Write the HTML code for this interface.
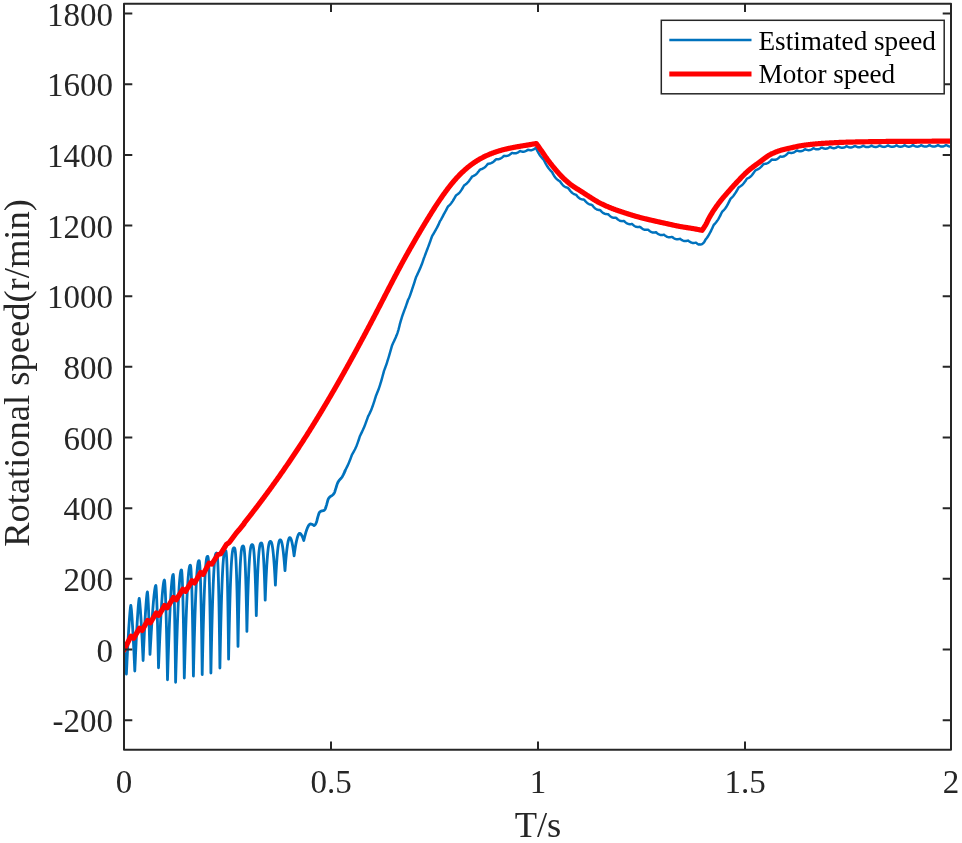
<!DOCTYPE html>
<html><head><meta charset="utf-8"><title>Rotational speed</title>
<style>
html,body{margin:0;padding:0;background:#fff;}
body{width:962px;height:843px;overflow:hidden;}
svg{display:block;}
text{font-family:"Liberation Serif","Times New Roman",serif;fill:#262626;}
.tl{font-size:33px;}
.al{font-size:36.5px;}
.lg{font-size:27.2px;fill:#000;}
</style></head>
<body>
<svg width="962" height="843" viewBox="0 0 962 843">
<rect x="0" y="0" width="962" height="843" fill="#fff"/>
<defs><clipPath id="c"><rect x="124.0" y="3.7" width="827.0" height="746.0999999999999"/></clipPath></defs>
<g clip-path="url(#c)" fill="none" stroke-linejoin="round" stroke-linecap="round">
<polyline points="124.00,650.00 124.60,653.51 125.20,662.00 125.80,670.49 126.40,674.00 126.58,670.03 126.77,666.13 126.95,662.30 127.13,658.55 127.32,654.86 127.50,651.26 127.68,647.73 127.87,644.29 128.05,640.93 128.23,637.66 128.42,634.48 128.60,631.39 128.78,628.41 128.97,625.54 129.15,622.78 129.33,620.14 129.52,617.62 129.70,615.25 129.88,613.03 130.07,610.98 130.25,609.13 130.43,607.52 130.62,606.20 130.80,605.40 130.97,606.17 131.13,607.42 131.30,608.97 131.47,610.74 131.63,612.70 131.80,614.82 131.97,617.09 132.13,619.49 132.30,622.02 132.47,624.66 132.63,627.41 132.80,630.26 132.97,633.21 133.13,636.25 133.30,639.37 133.47,642.59 133.63,645.88 133.80,649.25 133.97,652.70 134.13,656.22 134.30,659.81 134.47,663.48 134.63,667.21 134.80,671.00 134.98,666.80 135.17,662.67 135.35,658.62 135.53,654.64 135.72,650.75 135.90,646.93 136.08,643.20 136.27,639.55 136.45,636.00 136.63,632.54 136.82,629.17 137.00,625.91 137.18,622.76 137.37,619.71 137.55,616.79 137.73,613.99 137.92,611.34 138.10,608.82 138.28,606.48 138.47,604.31 138.65,602.35 138.83,600.64 139.02,599.25 139.20,598.40 139.36,599.13 139.52,600.32 139.69,601.78 139.85,603.45 140.01,605.31 140.17,607.28 140.34,609.40 140.50,611.63 140.66,613.98 140.82,616.44 140.99,619.00 141.15,621.66 141.31,624.41 141.47,627.26 141.64,630.20 141.80,633.23 141.96,636.34 142.12,639.54 142.29,642.83 142.45,646.19 142.61,649.65 142.78,653.18 142.94,656.80 143.10,660.50 143.28,656.40 143.46,652.36 143.64,648.40 143.82,644.50 144.00,640.69 144.18,636.95 144.35,633.30 144.53,629.75 144.71,626.29 144.89,622.93 145.07,619.67 145.25,616.54 145.43,613.52 145.61,610.63 145.79,607.88 145.97,605.28 146.15,602.83 146.32,600.56 146.50,598.47 146.68,596.58 146.86,594.92 147.04,593.53 147.22,592.47 147.40,591.90 147.51,592.41 147.62,593.36 147.72,594.58 147.83,596.04 147.94,597.69 148.05,599.51 148.16,601.50 148.27,603.64 148.38,605.93 148.48,608.35 148.59,610.89 148.70,613.57 148.81,616.36 148.92,619.28 149.03,622.31 149.13,625.45 149.24,628.70 149.35,632.06 149.46,635.52 149.57,639.09 149.68,642.77 149.78,646.54 149.89,650.42 150.00,654.40 150.24,649.99 150.48,645.67 150.72,641.44 150.97,637.30 151.21,633.27 151.45,629.34 151.69,625.52 151.93,621.82 152.18,618.24 152.42,614.80 152.66,611.49 152.90,608.32 153.14,605.30 153.38,602.44 153.62,599.75 153.87,597.24 154.11,594.92 154.35,592.79 154.59,590.88 154.83,589.20 155.08,587.77 155.32,586.61 155.56,585.79 155.80,585.40 155.91,585.86 156.03,586.81 156.14,588.13 156.25,589.77 156.36,591.68 156.48,593.85 156.59,596.26 156.70,598.91 156.81,601.77 156.93,604.84 157.04,608.13 157.15,611.61 157.26,615.28 157.38,619.15 157.49,623.21 157.60,627.45 157.71,631.87 157.82,636.47 157.94,641.26 158.05,646.22 158.16,651.35 158.28,656.66 158.39,662.14 158.50,667.80 158.75,661.76 158.99,655.87 159.24,650.14 159.48,644.58 159.73,639.18 159.97,633.97 160.22,628.93 160.47,624.09 160.71,619.45 160.96,615.01 161.20,610.79 161.45,606.79 161.70,603.03 161.94,599.50 162.19,596.22 162.43,593.20 162.68,590.45 162.93,587.98 163.17,585.81 163.42,583.95 163.66,582.41 163.91,581.23 164.15,580.43 164.40,580.10 164.53,580.47 164.66,581.35 164.79,582.64 164.92,584.30 165.05,586.32 165.18,588.66 165.30,591.32 165.43,594.29 165.56,597.55 165.69,601.11 165.82,604.96 165.95,609.08 166.08,613.49 166.21,618.17 166.34,623.12 166.47,628.35 166.60,633.84 166.72,639.61 166.85,645.64 166.98,651.94 167.11,658.50 167.24,665.34 167.37,672.43 167.50,679.80 167.74,671.99 167.97,664.42 168.21,657.11 168.45,650.05 168.69,643.25 168.93,636.73 169.16,630.48 169.40,624.52 169.64,618.85 169.88,613.49 170.11,608.43 170.35,603.69 170.59,599.28 170.82,595.19 171.06,591.44 171.30,588.04 171.54,584.99 171.77,582.31 172.01,579.99 172.25,578.06 172.49,576.52 172.72,575.38 172.96,574.66 173.20,574.40 173.30,574.67 173.40,575.38 173.50,576.50 173.60,578.02 173.70,579.91 173.80,582.17 173.90,584.79 174.00,587.77 174.10,591.10 174.20,594.78 174.30,598.80 174.40,603.17 174.50,607.89 174.60,612.94 174.70,618.34 174.80,624.08 174.90,630.16 175.00,636.58 175.10,643.34 175.20,650.45 175.30,657.90 175.40,665.69 175.50,673.82 175.60,682.30 175.84,673.44 176.08,664.91 176.32,656.70 176.57,648.83 176.81,641.30 177.05,634.11 177.29,627.28 177.53,620.81 177.78,614.71 178.02,608.98 178.26,603.62 178.50,598.64 178.74,594.05 178.98,589.85 179.22,586.05 179.47,582.64 179.71,579.64 179.95,577.04 180.19,574.84 180.43,573.05 180.68,571.66 180.92,570.67 181.16,570.09 181.40,569.90 181.52,570.08 181.64,570.63 181.76,571.54 181.88,572.81 182.00,574.45 182.12,576.46 182.25,578.84 182.37,581.59 182.49,584.72 182.61,588.21 182.73,592.09 182.85,596.34 182.97,600.98 183.09,606.00 183.21,611.40 183.33,617.20 183.45,623.39 183.58,629.97 183.70,636.96 183.82,644.35 183.94,652.14 184.06,660.35 184.18,668.96 184.30,678.00 184.55,668.55 184.80,659.49 185.05,650.83 185.30,642.57 185.55,634.73 185.80,627.30 186.05,620.28 186.30,613.69 186.55,607.52 186.80,601.77 187.05,596.45 187.30,591.57 187.55,587.10 187.80,583.07 188.05,579.47 188.30,576.28 188.55,573.52 188.80,571.18 189.05,569.24 189.30,567.70 189.55,566.54 189.80,565.76 190.05,565.33 190.30,565.20 190.43,565.32 190.56,565.74 190.69,566.48 190.82,567.56 190.95,569.00 191.08,570.81 191.20,573.00 191.33,575.58 191.46,578.55 191.59,581.93 191.72,585.73 191.85,589.94 191.98,594.59 192.11,599.67 192.24,605.20 192.37,611.17 192.50,617.61 192.62,624.51 192.75,631.88 192.88,639.74 193.01,648.08 193.14,656.91 193.27,666.25 193.40,676.10 193.63,665.82 193.87,656.03 194.10,646.73 194.33,637.93 194.57,629.62 194.80,621.80 195.03,614.48 195.27,607.66 195.50,601.33 195.73,595.48 195.97,590.13 196.20,585.25 196.43,580.85 196.67,576.92 196.90,573.45 197.13,570.44 197.37,567.86 197.60,565.71 197.83,563.97 198.07,562.63 198.30,561.65 198.53,561.02 198.77,560.69 199.00,560.60 199.13,560.68 199.27,561.00 199.40,561.60 199.53,562.53 199.67,563.79 199.80,565.42 199.93,567.44 200.07,569.86 200.20,572.70 200.33,575.97 200.47,579.68 200.60,583.86 200.73,588.51 200.87,593.65 201.00,599.29 201.13,605.45 201.27,612.13 201.40,619.34 201.53,627.11 201.67,635.43 201.80,644.33 201.93,653.82 202.07,663.91 202.20,674.60 202.42,663.48 202.65,652.95 202.88,643.01 203.10,633.66 203.32,624.89 203.55,616.70 203.77,609.09 204.00,602.05 204.22,595.57 204.45,589.64 204.67,584.25 204.90,579.40 205.12,575.07 205.35,571.25 205.57,567.91 205.80,565.06 206.03,562.66 206.25,560.69 206.47,559.13 206.70,557.95 206.92,557.13 207.15,556.61 207.38,556.36 207.60,556.30 207.74,556.36 207.88,556.60 208.01,557.09 208.15,557.87 208.29,558.98 208.43,560.44 208.56,562.29 208.70,564.54 208.84,567.23 208.97,570.37 209.11,573.99 209.25,578.10 209.39,582.73 209.53,587.89 209.66,593.60 209.80,599.89 209.94,606.77 210.07,614.26 210.21,622.38 210.35,631.14 210.49,640.56 210.62,650.67 210.76,661.48 210.90,673.00 211.13,661.13 211.37,649.95 211.60,639.46 211.83,629.65 212.07,620.51 212.30,612.04 212.53,604.22 212.77,597.04 213.00,590.48 213.23,584.54 213.47,579.19 213.70,574.42 213.93,570.21 214.17,566.53 214.40,563.37 214.63,560.70 214.87,558.49 215.10,556.72 215.33,555.34 215.57,554.33 215.80,553.64 216.03,553.23 216.27,553.04 216.50,553.00 216.64,553.04 216.78,553.21 216.93,553.59 217.07,554.22 217.21,555.15 217.35,556.40 217.49,558.02 217.63,560.03 217.78,562.46 217.92,565.35 218.06,568.73 218.20,572.60 218.34,577.02 218.48,581.99 218.62,587.55 218.77,593.72 218.91,600.52 219.05,607.98 219.19,616.13 219.33,624.99 219.47,634.58 219.62,644.93 219.76,656.06 219.90,668.00 220.13,655.78 220.37,644.34 220.60,633.67 220.83,623.76 221.07,614.59 221.30,606.15 221.53,598.41 221.77,591.36 222.00,584.98 222.23,579.25 222.47,574.14 222.70,569.63 222.93,565.69 223.17,562.30 223.40,559.42 223.63,557.02 223.87,555.07 224.10,553.53 224.33,552.36 224.57,551.53 224.80,550.98 225.03,550.66 225.27,550.53 225.50,550.50 225.63,550.52 225.76,550.65 225.89,550.93 226.02,551.41 226.15,552.15 226.28,553.18 226.40,554.53 226.53,556.25 226.66,558.37 226.79,560.91 226.92,563.92 227.05,567.43 227.18,571.46 227.31,576.05 227.44,581.22 227.57,587.01 227.70,593.46 227.82,600.57 227.95,608.40 228.08,616.96 228.21,626.30 228.34,636.43 228.47,647.38 228.60,659.20 228.83,647.07 229.06,635.78 229.29,625.32 229.52,615.65 229.75,606.77 229.97,598.65 230.20,591.26 230.43,584.59 230.66,578.59 230.89,573.25 231.12,568.53 231.35,564.40 231.58,560.84 231.81,557.80 232.04,555.26 232.27,553.17 232.50,551.50 232.72,550.21 232.95,549.25 233.18,548.57 233.41,548.15 233.64,547.91 233.87,547.82 234.10,547.80 234.26,547.81 234.42,547.90 234.59,548.10 234.75,548.46 234.91,549.02 235.07,549.83 235.24,550.94 235.40,552.37 235.56,554.15 235.72,556.34 235.89,558.96 236.05,562.04 236.21,565.62 236.38,569.73 236.54,574.40 236.70,579.66 236.86,585.54 237.03,592.07 237.19,599.27 237.35,607.18 237.51,615.82 237.68,625.22 237.84,635.41 238.00,646.40 238.21,635.22 238.42,624.88 238.62,615.35 238.83,606.60 239.04,598.59 239.25,591.31 239.46,584.70 239.67,578.75 239.88,573.43 240.08,568.69 240.29,564.51 240.50,560.86 240.71,557.71 240.92,555.02 241.12,552.76 241.33,550.90 241.54,549.40 241.75,548.23 241.96,547.36 242.17,546.74 242.38,546.34 242.58,546.11 242.79,546.02 243.00,546.00 243.16,546.01 243.32,546.10 243.49,546.29 243.65,546.64 243.81,547.18 243.97,547.94 244.14,548.97 244.30,550.28 244.46,551.90 244.62,553.87 244.79,556.22 244.95,558.96 245.11,562.12 245.28,565.74 245.44,569.82 245.60,574.40 245.76,579.50 245.93,585.13 246.09,591.33 246.25,598.10 246.41,605.48 246.58,613.48 246.74,622.11 246.90,631.40 247.12,621.97 247.34,613.22 247.56,605.13 247.78,597.68 248.00,590.84 248.22,584.59 248.45,578.90 248.67,573.76 248.89,569.13 249.11,564.99 249.33,561.33 249.55,558.11 249.77,555.31 249.99,552.91 250.21,550.88 250.43,549.19 250.65,547.82 250.88,546.73 251.10,545.91 251.32,545.33 251.54,544.94 251.76,544.72 251.98,544.62 252.20,544.60 252.37,544.62 252.54,544.70 252.71,544.88 252.88,545.21 253.05,545.70 253.22,546.39 253.40,547.30 253.57,548.46 253.74,549.88 253.91,551.59 254.08,553.60 254.25,555.94 254.42,558.63 254.59,561.68 254.76,565.11 254.93,568.94 255.10,573.18 255.28,577.84 255.45,582.95 255.62,588.51 255.79,594.55 255.96,601.07 256.13,608.08 256.30,615.60 256.50,607.92 256.71,600.77 256.91,594.14 257.12,588.00 257.32,582.35 257.52,577.17 257.73,572.43 257.93,568.13 258.14,564.24 258.34,560.75 258.55,557.64 258.75,554.89 258.95,552.49 259.16,550.41 259.36,548.64 259.57,547.16 259.77,545.94 259.98,544.97 260.18,544.24 260.38,543.70 260.59,543.33 260.79,543.12 261.00,543.02 261.20,543.00 261.37,543.02 261.53,543.10 261.70,543.27 261.87,543.58 262.03,544.03 262.20,544.65 262.37,545.46 262.53,546.47 262.70,547.70 262.87,549.16 263.03,550.88 263.20,552.85 263.37,555.09 263.53,557.61 263.70,560.42 263.87,563.53 264.03,566.95 264.20,570.69 264.37,574.75 264.53,579.14 264.70,583.86 264.87,588.93 265.03,594.34 265.20,600.10 265.42,594.19 265.63,588.68 265.85,583.54 266.07,578.76 266.28,574.33 266.50,570.24 266.72,566.48 266.93,563.04 267.15,559.90 267.37,557.05 267.58,554.48 267.80,552.19 268.02,550.15 268.23,548.36 268.45,546.81 268.67,545.48 268.88,544.37 269.10,543.46 269.32,542.73 269.53,542.18 269.75,541.80 269.97,541.55 270.18,541.43 270.40,541.40 270.61,541.42 270.82,541.52 271.02,541.71 271.23,542.02 271.44,542.46 271.65,543.04 271.86,543.78 272.07,544.67 272.27,545.74 272.48,546.98 272.69,548.41 272.90,550.02 273.11,551.82 273.32,553.82 273.52,556.02 273.73,558.42 273.94,561.03 274.15,563.84 274.36,566.86 274.57,570.09 274.77,573.52 274.98,577.17 275.19,581.03 275.40,585.10 275.60,580.90 275.80,576.94 276.00,573.21 276.20,569.71 276.40,566.44 276.60,563.39 276.80,560.55 277.00,557.92 277.20,555.49 277.40,553.26 277.60,551.22 277.80,549.36 278.00,547.69 278.20,546.20 278.40,544.87 278.60,543.72 278.80,542.72 279.00,541.89 279.20,541.20 279.40,540.66 279.60,540.26 279.80,539.99 280.00,539.84 280.20,539.80 280.40,539.83 280.60,539.93 280.80,540.13 281.00,540.42 281.20,540.82 281.40,541.32 281.60,541.94 281.80,542.67 282.00,543.51 282.20,544.48 282.40,545.57 282.60,546.77 282.80,548.10 283.00,549.55 283.20,551.12 283.40,552.82 283.60,554.63 283.80,556.57 284.00,558.63 284.20,560.81 284.40,563.11 284.60,565.52 284.80,568.05 285.00,570.70 285.20,567.88 285.40,565.19 285.60,562.65 285.80,560.24 286.00,557.96 286.20,555.82 286.40,553.80 286.60,551.91 286.80,550.15 287.00,548.50 287.20,546.98 287.40,545.58 287.60,544.30 287.80,543.13 288.00,542.08 288.20,541.14 288.40,540.31 288.60,539.59 288.80,538.98 289.00,538.49 289.20,538.10 289.40,537.82 289.60,537.66 289.80,537.60 289.98,537.63 290.16,537.73 290.34,537.89 290.52,538.12 290.70,538.41 290.88,538.77 291.05,539.19 291.23,539.68 291.41,540.23 291.59,540.85 291.77,541.53 291.95,542.27 292.13,543.08 292.31,543.95 292.49,544.88 292.67,545.87 292.85,546.91 293.03,548.02 293.20,549.18 293.38,550.40 293.56,551.67 293.74,552.99 293.92,554.37 294.10,555.80 294.33,554.04 294.56,552.36 294.79,550.75 295.02,549.21 295.25,547.75 295.48,546.36 295.70,545.04 295.93,543.79 296.16,542.61 296.39,541.50 296.62,540.46 296.85,539.49 297.08,538.58 297.31,537.74 297.54,536.97 297.77,536.27 298.00,535.63 298.23,535.07 298.45,534.57 298.68,534.15 298.91,533.81 299.14,533.55 299.37,533.37 299.60,533.30 299.78,533.32 299.95,533.38 300.12,533.47 300.30,533.59 300.48,533.73 300.65,533.89 300.83,534.08 301.00,534.30 301.18,534.53 301.35,534.79 301.53,535.07 301.70,535.37 301.88,535.69 302.05,536.03 302.23,536.39 302.40,536.77 302.57,537.17 302.75,537.59 302.93,538.03 303.10,538.49 303.28,538.96 303.45,539.46 303.62,539.97 303.80,540.50 304.07,539.28 304.35,538.11 304.62,536.97 304.90,535.88 305.18,534.84 305.45,533.83 305.73,532.87 306.00,531.95 306.27,531.08 306.55,530.25 306.82,529.47 307.10,528.74 307.38,528.05 307.65,527.41 307.93,526.82 308.20,526.28 308.47,525.80 308.75,525.36 309.02,524.98 309.30,524.66 309.57,524.39 309.85,524.19 310.12,524.05 310.40,524.00 310.55,524.01 310.71,524.02 310.86,524.04 311.02,524.06 311.17,524.10 311.32,524.13 311.48,524.17 311.63,524.22 311.79,524.27 311.94,524.33 312.10,524.39 312.25,524.46 312.40,524.53 312.56,524.61 312.71,524.69 312.87,524.77 313.02,524.86 313.18,524.95 313.33,525.05 313.48,525.15 313.64,525.26 313.79,525.37 313.95,525.48 314.10,525.60 314.35,525.46 314.60,525.26 314.85,525.01 315.10,524.72 315.35,524.40 315.60,524.01 315.85,523.54 316.10,523.01 316.35,522.42 316.60,521.74 316.85,520.89 317.10,519.94 317.35,518.93 317.60,517.93 317.85,517.00 318.10,516.18 318.35,515.34 318.60,514.50 318.85,513.71 319.10,513.02 319.35,512.51 319.60,512.19 319.85,511.95 320.10,511.74 320.35,511.55 320.60,511.39 320.85,511.26 321.10,511.14 321.35,511.05 321.60,510.97 321.85,510.91 322.10,510.87 322.35,510.83 322.60,510.79 322.85,510.75 323.10,510.71 323.35,510.65 323.60,510.56 323.85,510.45 324.10,510.29 324.35,510.09 324.60,509.85 324.85,509.58 325.10,509.26 325.35,508.74 325.60,508.06 325.85,507.28 326.10,506.46 326.35,505.65 326.60,504.85 326.85,503.96 327.10,503.00 327.35,502.03 327.60,501.09 327.85,500.23 328.10,499.48 328.35,498.89 328.60,498.46 328.85,498.08 329.10,497.74 329.35,497.44 329.60,497.17 329.85,496.93 330.10,496.72 330.35,496.53 330.60,496.37 330.85,496.22 331.10,496.08 331.35,495.94 331.60,495.78 331.85,495.61 332.10,495.42 332.35,495.22 332.60,495.01 332.85,494.79 333.10,494.55 333.35,494.28 333.60,493.99 333.85,493.67 334.10,493.30 334.35,492.83 334.60,492.21 334.85,491.50 335.10,490.71 335.35,489.90 335.60,489.10 335.85,488.35 336.10,487.58 336.35,486.77 336.60,485.94 336.85,485.12 337.10,484.34 337.35,483.63 337.60,483.01 337.85,482.50 338.10,482.04 338.35,481.62 338.60,481.23 338.85,480.87 339.10,480.53 339.35,480.20 339.60,479.87 339.85,479.58 340.10,479.31 340.35,479.05 340.60,478.80 340.85,478.53 341.10,478.25 341.35,477.93 341.60,477.60 341.85,477.24 342.10,476.86 342.35,476.47 342.60,476.06 342.85,475.63 343.10,475.18 343.35,474.72 343.60,474.22 343.85,473.70 344.10,473.15 344.35,472.58 344.60,471.99 344.85,471.38 345.00,471.00" stroke="#0072BD" stroke-width="2.8"/>
<polyline points="345.00,471.00 345.50,469.78 346.00,468.86 346.50,467.91 347.00,466.91 347.50,465.88 348.00,464.79 348.50,463.66 349.00,462.48 349.50,461.26 350.00,460.00 350.50,458.71 351.00,457.38 351.50,456.03 352.00,454.67 352.50,453.82 353.00,452.97 353.50,452.09 354.00,451.19 354.50,450.25 355.00,449.26 355.50,448.21 356.00,447.10 356.50,445.92 357.00,444.66 357.50,443.33 358.00,441.93 358.50,440.48 359.00,438.99 359.50,437.48 360.00,435.95 360.50,434.93 361.00,433.91 361.50,432.89 362.00,431.85 362.50,430.80 363.00,429.71 363.50,428.59 364.00,427.42 364.50,426.21 365.00,424.95 365.50,423.65 366.00,422.31 366.50,420.93 367.00,419.52 367.50,418.08 368.00,416.63 368.50,415.68 369.00,414.70 369.50,413.70 370.00,412.65 370.50,411.55 371.00,410.39 371.50,409.17 372.00,407.88 372.50,406.53 373.00,405.12 373.50,403.65 374.00,402.13 374.50,400.56 375.00,398.95 375.50,397.30 376.00,395.64 376.50,394.47 377.00,393.27 377.50,392.04 378.00,390.78 378.50,389.46 379.00,388.07 379.50,386.62 380.00,385.09 380.50,383.49 381.00,381.83 381.50,380.10 382.00,378.33 382.50,376.52 383.00,374.67 383.50,372.81 384.00,370.94 384.50,369.59 385.00,368.24 385.50,366.88 386.00,365.48 386.50,364.04 387.00,362.54 387.50,360.99 388.00,359.39 388.50,357.74 389.00,356.05 389.50,354.33 390.00,352.58 390.50,350.82 391.00,349.06 391.50,347.31 392.00,345.60 392.50,344.43 393.00,343.31 393.50,342.24 394.00,341.19 394.50,340.15 395.00,339.09 395.50,337.98 396.00,336.82 396.50,335.58 397.00,334.25 397.50,332.81 398.00,331.26 398.50,329.59 399.00,327.73 399.50,325.71 400.00,323.57 400.50,321.89 401.00,320.19 401.50,318.52 402.00,316.90 402.50,315.38 403.00,313.97 403.50,312.61 404.00,311.26 404.50,309.92 405.00,308.57 405.50,307.21 406.00,305.83 406.50,304.43 407.00,302.99 407.50,301.52 408.00,300.02 408.50,298.99 409.00,297.90 409.50,296.73 410.00,295.47 410.50,294.12 411.00,292.70 411.50,291.23 412.00,289.72 412.50,288.18 413.00,286.66 413.50,285.13 414.00,283.59 414.50,282.02 415.00,280.45 415.50,278.87 416.00,277.30 416.50,276.25 417.00,275.20 417.50,274.15 418.00,273.09 418.50,272.00 419.00,270.88 419.50,269.76 420.00,268.63 420.50,267.47 421.00,266.28 421.50,265.04 422.00,263.74 422.50,262.38 423.00,260.95 423.50,259.45 424.00,257.86 424.50,256.67 425.00,255.39 425.50,254.06 426.00,252.69 426.50,251.32 427.00,249.97 427.50,248.68 428.00,247.40 428.50,246.08 429.00,244.73 429.50,243.36 430.00,241.97 430.50,240.57 431.00,239.15 431.50,237.74 432.00,236.35 432.50,235.48 433.00,234.63 433.50,233.78 434.00,232.92 434.50,232.06 435.00,231.17 435.50,230.29 436.00,229.41 436.50,228.51 437.00,227.59 437.50,226.63 438.00,225.64 438.50,224.60 439.00,223.51 439.50,222.37 440.00,221.17 440.50,220.42 441.00,219.59 441.50,218.70 442.00,217.76 442.50,216.80 443.00,215.84 443.50,214.89 444.00,213.97 444.50,213.08 445.00,212.17 445.50,211.24 446.00,210.30 446.50,209.35 447.00,208.39 447.50,207.43 448.00,206.46 448.50,206.02 449.00,205.56 449.50,205.09 450.00,204.59 450.50,204.04 451.00,203.44 451.50,202.80 452.00,202.10 452.50,201.36 453.00,200.58 453.50,199.77 454.00,198.92 454.50,198.05 455.00,197.17 455.50,196.29 456.00,195.42 456.50,195.06 457.00,194.71 457.50,194.35 458.00,193.96 458.50,193.54 459.00,193.07 459.50,192.55 460.00,191.97 460.50,191.33 461.00,190.63 461.50,189.88 462.00,189.08 462.50,188.24 463.00,187.38 463.50,186.50 464.00,185.61 464.50,185.24 465.00,184.87 465.50,184.49 466.00,184.09 466.50,183.67 467.00,183.21 467.50,182.72 468.00,182.18 468.50,181.59 469.00,180.97 469.50,180.31 470.00,179.62 470.50,178.90 471.00,178.17 471.50,177.43 472.00,176.68 472.50,176.45 473.00,176.22 473.50,175.97 474.00,175.70 474.50,175.40 475.00,175.06 475.50,174.68 476.00,174.26 476.50,173.80 477.00,173.29 477.50,172.75 478.00,172.16 478.50,171.55 479.00,170.91 479.50,170.26 480.00,169.61 480.50,169.46 481.00,169.31 481.50,169.15 482.00,168.96 482.50,168.74 483.00,168.48 483.50,168.19 484.00,167.84 484.50,167.46 485.00,167.02 485.50,166.55 486.00,166.04 486.50,165.51 487.00,164.95 487.50,164.37 488.00,163.80 488.50,163.74 489.00,163.67 489.50,163.59 490.00,163.48 490.50,163.34 491.00,163.17 491.50,162.95 492.00,162.69 492.50,162.38 493.00,162.03 493.50,161.64 494.00,161.21 494.50,160.75 495.00,160.26 495.50,159.77 496.00,159.26 496.50,159.27 497.00,159.28 497.50,159.27 498.00,159.24 498.50,159.17 499.00,159.07 499.50,158.93 500.00,158.74 500.50,158.50 501.00,158.22 501.50,157.89 502.00,157.53 502.50,157.13 503.00,156.71 503.50,156.27 504.00,155.82 504.50,155.88 505.00,155.93 505.50,155.96 506.00,155.97 506.50,155.94 507.00,155.87 507.50,155.75 508.00,155.59 508.50,155.38 509.00,155.12 509.50,154.82 510.00,154.49 510.50,154.12 511.00,153.73 511.50,153.32 512.00,152.91 512.50,153.02 513.00,153.12 513.50,153.21 514.00,153.28 514.50,153.32 515.00,153.32 515.50,153.28 516.00,153.19 516.50,153.05 517.00,152.87 517.50,152.64 518.00,152.38 518.50,152.08 519.00,151.75 519.50,151.41 520.00,151.06 520.50,151.22 521.00,151.37 521.50,151.49 522.00,151.60 522.50,151.67 523.00,151.70 523.50,151.69 524.00,151.64 524.50,151.53 525.00,151.38 525.50,151.18 526.00,150.94 526.50,150.66 527.00,150.35 527.50,150.01 528.00,149.67 528.50,149.83 529.00,149.97 529.50,150.09 530.00,150.17 530.50,150.22 531.00,150.22 531.50,150.17 532.00,150.07 532.50,149.92 533.00,149.71 533.50,149.45 534.00,149.15 534.50,148.82 535.00,148.45 535.50,148.06 535.60,147.98 536.10,148.53 536.60,149.49 537.10,150.43 537.60,151.36 538.10,152.27 538.60,153.13 539.10,153.96 539.60,154.74 540.10,155.47 540.60,156.16 541.10,156.80 541.60,157.42 542.10,158.02 542.60,158.60 543.10,159.15 543.60,159.70 544.10,160.34 544.60,161.38 545.10,162.40 545.60,163.39 546.10,164.33 546.60,165.21 547.10,166.04 547.60,166.81 548.10,167.53 548.60,168.21 549.10,168.84 549.60,169.45 550.10,170.02 550.60,170.57 551.10,171.10 551.60,171.59 552.10,172.17 552.60,173.14 553.10,174.06 553.60,174.94 554.10,175.75 554.60,176.50 555.10,177.18 555.60,177.81 556.10,178.37 556.60,178.88 557.10,179.34 557.60,179.76 558.10,180.14 558.60,180.49 559.10,180.80 559.60,181.09 560.10,181.46 560.60,182.21 561.10,182.92 561.60,183.60 562.10,184.22 562.60,184.79 563.10,185.30 563.60,185.76 564.10,186.16 564.60,186.50 565.10,186.80 565.60,187.04 566.10,187.25 566.60,187.43 567.10,187.58 567.60,187.73 568.10,187.99 568.60,188.66 569.10,189.33 569.60,189.98 570.10,190.61 570.60,191.21 571.10,191.77 571.60,192.28 572.10,192.74 572.60,193.15 573.10,193.50 573.60,193.80 574.10,194.06 574.60,194.27 575.10,194.44 575.60,194.58 576.10,194.81 576.60,195.42 577.10,196.00 577.60,196.56 578.10,197.07 578.60,197.54 579.10,197.97 579.60,198.33 580.10,198.65 580.60,198.91 581.10,199.11 581.60,199.27 582.10,199.39 582.60,199.48 583.10,199.54 583.60,199.58 584.10,199.72 584.60,200.27 585.10,200.82 585.60,201.35 586.10,201.85 586.60,202.33 587.10,202.77 587.60,203.17 588.10,203.52 588.60,203.83 589.10,204.09 589.60,204.30 590.10,204.48 590.60,204.63 591.10,204.75 591.60,204.85 592.10,205.05 592.60,205.65 593.10,206.24 593.60,206.80 594.10,207.33 594.60,207.83 595.10,208.27 595.60,208.66 596.10,209.00 596.60,209.29 597.10,209.52 597.60,209.69 598.10,209.82 598.60,209.91 599.10,209.96 599.60,210.00 600.10,210.13 600.60,210.65 601.10,211.17 601.60,211.65 602.10,212.11 602.60,212.53 603.10,212.90 603.60,213.22 604.10,213.49 604.60,213.71 605.10,213.88 605.60,214.00 606.10,214.08 606.60,214.12 607.10,214.13 607.60,214.13 608.10,214.21 608.60,214.70 609.10,215.18 609.60,215.63 610.10,216.05 610.60,216.44 611.10,216.78 611.60,217.07 612.10,217.32 612.60,217.51 613.10,217.65 613.60,217.74 614.10,217.79 614.60,217.81 615.10,217.80 615.60,217.77 616.10,217.83 616.60,218.29 617.10,218.75 617.60,219.18 618.10,219.57 618.60,219.94 619.10,220.25 619.60,220.52 620.10,220.74 620.60,220.91 621.10,221.02 621.60,221.10 622.10,221.13 622.60,221.12 623.10,221.09 623.60,221.04 624.10,221.08 624.60,221.53 625.10,221.96 625.60,222.37 626.10,222.76 626.60,223.10 627.10,223.40 627.60,223.65 628.10,223.85 628.60,224.00 629.10,224.10 629.60,224.16 630.10,224.17 630.60,224.15 631.10,224.10 631.60,224.03 632.10,224.06 632.60,224.49 633.10,224.90 633.60,225.30 634.10,225.67 634.60,226.00 635.10,226.28 635.60,226.52 636.10,226.71 636.60,226.86 637.10,226.95 637.60,226.99 638.10,227.00 638.60,226.97 639.10,226.92 639.60,226.85 640.10,226.88 640.60,227.31 641.10,227.73 641.60,228.13 642.10,228.49 642.60,228.83 643.10,229.12 643.60,229.36 644.10,229.55 644.60,229.69 645.10,229.79 645.60,229.84 646.10,229.84 646.60,229.82 647.10,229.76 647.60,229.69 648.10,229.71 648.60,230.13 649.10,230.55 649.60,230.94 650.10,231.30 650.60,231.62 651.10,231.90 651.60,232.13 652.10,232.31 652.60,232.44 653.10,232.51 653.60,232.55 654.10,232.54 654.60,232.50 655.10,232.43 655.60,232.34 656.10,232.34 656.60,232.75 657.10,233.15 657.60,233.53 658.10,233.87 658.60,234.18 659.10,234.45 659.60,234.66 660.10,234.83 660.60,234.95 661.10,235.01 661.60,235.03 662.10,235.01 662.60,234.96 663.10,234.87 663.60,234.77 664.10,234.76 664.60,235.16 665.10,235.54 665.60,235.90 666.10,236.23 666.60,236.52 667.10,236.76 667.60,236.96 668.10,237.11 668.60,237.21 669.10,237.26 669.60,237.26 670.10,237.22 670.60,237.14 671.10,237.04 671.60,236.92 672.10,236.89 672.60,237.27 673.10,237.64 673.60,237.98 674.10,238.29 674.60,238.57 675.10,238.80 675.60,238.99 676.10,239.13 676.60,239.21 677.10,239.25 677.60,239.24 678.10,239.19 678.60,239.11 679.10,239.00 679.60,238.88 680.10,238.84 680.60,239.21 681.10,239.57 681.60,239.90 682.10,240.20 682.60,240.47 683.10,240.69 683.60,240.86 684.10,240.98 684.60,241.06 685.10,241.08 685.60,241.06 686.10,241.00 686.60,240.90 687.10,240.78 687.60,240.65 688.10,240.60 688.60,240.97 689.10,241.32 689.60,241.66 690.10,241.97 690.60,242.24 691.10,242.47 691.60,242.66 692.10,242.81 692.60,242.90 693.10,242.95 693.60,242.96 694.10,242.94 694.60,242.88 695.10,242.81 695.60,242.72 696.10,242.72 696.60,243.14 697.10,243.55 697.60,243.93 698.10,244.29 698.50,244.55 699.00,244.27 699.50,244.42 700.00,244.50 700.50,244.50 701.00,244.42 701.50,244.27 702.00,244.03 702.50,243.72 703.00,243.34 703.50,242.89 704.00,242.39 704.50,241.66 705.00,240.70 705.50,239.59 706.00,238.99 706.50,238.40 707.00,237.78 707.50,237.06 708.00,236.26 708.50,235.41 709.00,234.53 709.50,233.64 710.00,232.74 710.50,231.81 711.00,230.83 711.50,229.81 712.00,228.76 712.50,227.69 713.00,226.59 713.50,225.49 714.00,224.62 714.50,224.09 715.00,223.55 715.50,222.99 716.00,222.40 716.50,221.77 717.00,221.11 717.50,220.39 718.00,219.62 718.50,218.80 719.00,217.93 719.50,217.01 720.00,216.06 720.50,215.07 721.00,214.06 721.50,213.03 722.00,211.99 722.50,211.40 723.00,210.92 723.50,210.42 724.00,209.88 724.50,209.30 725.00,208.68 725.50,208.01 726.00,207.29 726.50,206.51 727.00,205.68 727.50,204.80 728.00,203.88 728.50,202.92 729.00,201.92 729.50,200.90 730.00,199.87 730.50,198.94 731.00,198.45 731.50,197.95 732.00,197.43 732.50,196.88 733.00,196.30 733.50,195.69 734.00,195.03 734.50,194.34 735.00,193.61 735.50,192.85 736.00,192.06 736.50,191.24 737.00,190.38 737.50,189.51 738.00,188.62 738.50,187.74 739.00,187.19 739.50,186.88 740.00,186.56 740.50,186.22 741.00,185.86 741.50,185.47 742.00,185.04 742.50,184.58 743.00,184.07 743.50,183.52 744.00,182.93 744.50,182.29 745.00,181.62 745.50,180.91 746.00,180.17 746.50,179.41 747.00,178.64 747.50,178.43 748.00,178.20 748.50,177.94 749.00,177.66 749.50,177.34 750.00,176.97 750.50,176.56 751.00,176.09 751.50,175.58 752.00,175.02 752.50,174.41 753.00,173.76 753.50,173.08 754.00,172.37 754.50,171.64 755.00,170.88 755.50,170.35 756.00,170.15 756.50,169.95 757.00,169.73 757.50,169.49 758.00,169.22 758.50,168.92 759.00,168.58 759.50,168.21 760.00,167.81 760.50,167.37 761.00,166.89 761.50,166.37 762.00,165.81 762.50,165.24 763.00,164.65 763.50,164.05 764.00,163.91 764.50,163.88 765.00,163.84 765.50,163.78 766.00,163.69 766.50,163.56 767.00,163.39 767.50,163.18 768.00,162.92 768.50,162.61 769.00,162.25 769.50,161.85 770.00,161.42 770.50,160.96 771.00,160.47 771.50,159.98 772.00,159.60 772.50,159.68 773.00,159.75 773.50,159.80 774.00,159.83 774.50,159.82 775.00,159.77 775.50,159.68 776.00,159.53 776.50,159.33 777.00,159.08 777.50,158.78 778.00,158.43 778.50,158.03 779.00,157.61 779.50,157.15 780.00,156.68 780.50,156.54 781.00,156.61 781.50,156.65 782.00,156.67 782.50,156.64 783.00,156.56 783.50,156.43 784.00,156.24 784.50,156.01 785.00,155.71 785.50,155.37 786.00,154.97 786.50,154.54 787.00,154.08 787.50,153.59 788.00,153.10 788.50,152.60 789.00,152.67 789.50,152.75 790.00,152.82 790.50,152.88 791.00,152.92 791.50,152.93 792.00,152.89 792.50,152.81 793.00,152.68 793.50,152.50 794.00,152.28 794.50,152.01 795.00,151.71 795.50,151.37 796.00,151.01 796.50,150.64 797.00,150.50 797.50,150.69 798.00,150.87 798.50,151.03 799.00,151.16 799.50,151.25 800.00,151.29 800.50,151.29 801.00,151.24 801.50,151.13 802.00,150.97 802.50,150.76 803.00,150.51 803.50,150.22 804.00,149.90 804.50,149.57 805.00,149.22 805.50,149.32 806.00,149.53 806.50,149.73 807.00,149.89 807.50,150.03 808.00,150.12 808.50,150.17 809.00,150.16 809.50,150.11 810.00,150.00 810.50,149.84 811.00,149.63 811.50,149.38 812.00,149.10 812.50,148.80 813.00,148.47 813.50,148.25 814.00,148.49 814.50,148.71 815.00,148.91 815.50,149.08 816.00,149.21 816.50,149.30 817.00,149.34 817.50,149.33 818.00,149.27 818.50,149.16 819.00,148.99 819.50,148.78 820.00,148.53 820.50,148.25 821.00,147.94 821.50,147.63 822.00,147.64 822.50,147.88 823.00,148.11 823.50,148.31 824.00,148.47 824.50,148.60 825.00,148.67 825.50,148.70 826.00,148.68 826.50,148.60 827.00,148.47 827.50,148.29 828.00,148.07 828.50,147.82 829.00,147.53 829.50,147.23 830.00,146.91 830.50,147.16 831.00,147.40 831.50,147.63 832.00,147.82 832.50,147.98 833.00,148.09 833.50,148.16 834.00,148.18 834.50,148.14 835.00,148.05 835.50,147.91 836.00,147.72 836.50,147.49 837.00,147.23 837.50,146.94 838.00,146.64 838.50,146.56 839.00,146.82 839.50,147.06 840.00,147.28 840.50,147.46 841.00,147.61 841.50,147.72 842.00,147.77 842.50,147.77 843.00,147.72 843.50,147.62 844.00,147.46 844.50,147.27 845.00,147.03 845.50,146.77 846.00,146.48 846.50,146.18 847.00,146.33 847.50,146.59 848.00,146.83 848.50,147.04 849.00,147.22 849.50,147.36 850.00,147.45 850.50,147.48 851.00,147.47 851.50,147.40 852.00,147.28 852.50,147.11 853.00,146.90 853.50,146.66 854.00,146.39 854.50,146.10 855.00,145.91 855.50,146.18 856.00,146.44 856.50,146.67 857.00,146.88 857.50,147.05 858.00,147.17 858.50,147.24 859.00,147.26 859.50,147.23 860.00,147.15 860.50,147.01 861.00,146.84 861.50,146.62 862.00,146.37 862.50,146.09 863.00,145.80 863.50,145.85 864.00,146.12 864.50,146.37 865.00,146.60 865.50,146.79 866.00,146.95 866.50,147.05 867.00,147.11 867.50,147.11 868.00,147.06 868.50,146.96 869.00,146.81 869.50,146.61 870.00,146.38 870.50,146.12 871.00,145.84 871.50,145.55 872.00,145.82 872.50,146.09 873.00,146.33 873.50,146.55 874.00,146.73 874.50,146.87 875.00,146.95 875.50,146.99 876.00,146.97 876.50,146.90 877.00,146.78 877.50,146.61 878.00,146.40 878.50,146.16 879.00,145.89 879.50,145.61 880.00,145.55 880.50,145.82 881.00,146.08 881.50,146.31 882.00,146.52 882.50,146.68 883.00,146.80 883.50,146.87 884.00,146.88 884.50,146.85 885.00,146.76 885.50,146.62 886.00,146.43 886.50,146.21 887.00,145.96 887.50,145.68 888.00,145.40 888.50,145.56 889.00,145.83 889.50,146.08 890.00,146.31 890.50,146.50 891.00,146.65 891.50,146.75 892.00,146.80 892.50,146.79 893.00,146.74 893.50,146.63 894.00,146.47 894.50,146.27 895.00,146.04 895.50,145.78 896.00,145.50 896.50,145.32 897.00,145.60 897.50,145.87 898.00,146.11 898.50,146.32 899.00,146.50 899.50,146.63 900.00,146.71 900.50,146.74 901.00,146.72 901.50,146.64 902.00,146.51 902.50,146.34 903.00,146.13 903.50,145.88 904.00,145.61 904.50,145.33 905.00,145.38 905.50,145.66 906.00,145.92 906.50,146.15 907.00,146.35 907.50,146.51 908.00,146.62 908.50,146.68 909.00,146.69 909.50,146.64 910.00,146.55 910.50,146.40 911.00,146.21 911.50,145.98 912.00,145.73 912.50,145.45 913.00,145.17 913.50,145.45 914.00,145.72 914.50,145.97 915.00,146.19 915.50,146.37 916.00,146.51 916.50,146.60 917.00,146.64 917.50,146.63 918.00,146.56 918.50,146.45 919.00,146.28 919.50,146.08 920.00,145.84 920.50,145.58 921.00,145.30 921.50,145.24 922.00,145.51 922.50,145.78 923.00,146.02 923.50,146.22 924.00,146.39 924.50,146.51 925.00,146.59 925.50,146.61 926.00,146.57 926.50,146.48 927.00,146.35 927.50,146.17 928.00,145.95 928.50,145.70 929.00,145.43 929.50,145.15 930.00,145.31 930.50,145.59 931.00,145.84 931.50,146.07 932.00,146.26 932.50,146.41 933.00,146.52 933.50,146.57 934.00,146.57 934.50,146.51 935.00,146.41 935.50,146.25 936.00,146.06 936.50,145.82 937.00,145.57 937.50,145.29 938.00,145.12 938.50,145.40 939.00,145.67 939.50,145.91 940.00,146.13 940.50,146.31 941.00,146.44 941.50,146.52 942.00,146.55 942.50,146.53 943.00,146.46 943.50,146.33 944.00,146.16 944.50,145.95 945.00,145.71 945.50,145.44 946.00,145.16 946.50,145.22 947.00,145.49 947.50,145.75 948.00,145.99 948.50,146.19 949.00,146.35 949.50,146.47 950.00,146.53 950.50,146.54 951.00,146.50" stroke="#0072BD" stroke-width="2.5"/>
<polyline points="124.00,650.00 131.00,636.10 133.58,638.33 139.60,628.20 142.06,630.46 147.80,620.40 150.35,622.75 156.30,612.90 158.79,615.31 164.60,605.60 167.27,607.77 173.50,597.50 176.29,599.64 182.80,589.30 185.56,591.35 192.00,580.80 194.58,582.94 200.60,572.60 203.15,574.31 209.10,563.20 211.80,564.06 218.10,554.40 220.62,553.78 226.50,544.30 229.44,542.30 236.30,533.00 238.67,530.36 244.20,523.50 244.30,522.99 244.80,522.36 245.30,521.73 245.80,521.09 246.30,520.46 246.80,519.82 247.30,519.18 247.80,518.54 248.30,517.90 248.80,517.26 249.30,516.62 249.80,515.98 250.30,515.34 250.80,514.69 251.30,514.05 251.80,513.40 252.30,512.75 252.80,512.10 253.30,511.46 253.80,510.80 254.30,510.15 254.80,509.50 255.30,508.85 255.80,508.19 256.30,507.54 256.80,506.88 257.30,506.22 257.80,505.56 258.30,504.90 258.80,504.24 259.30,503.58 259.80,502.92 260.30,502.26 260.80,501.59 261.30,500.92 261.80,500.26 262.30,499.59 262.80,498.92 263.30,498.25 263.80,497.58 264.30,496.90 264.80,496.23 265.30,495.55 265.80,494.88 266.30,494.20 266.80,493.52 267.30,492.84 267.80,492.16 268.30,491.48 268.80,490.80 269.30,490.11 269.80,489.43 270.30,488.74 270.80,488.05 271.30,487.36 271.80,486.67 272.30,485.98 272.80,485.29 273.30,484.59 273.80,483.90 274.30,483.20 274.80,482.50 275.30,481.81 275.80,481.11 276.30,480.40 276.80,479.70 277.30,479.00 277.80,478.29 278.30,477.59 278.80,476.88 279.30,476.17 279.80,475.46 280.30,474.75 280.80,474.03 281.30,473.32 281.80,472.60 282.30,471.89 282.80,471.17 283.30,470.45 283.80,469.73 284.30,469.01 284.80,468.28 285.30,467.56 285.80,466.83 286.30,466.10 286.80,465.37 287.30,464.64 287.80,463.91 288.30,463.18 288.80,462.45 289.30,461.71 289.80,460.97 290.30,460.23 290.80,459.49 291.30,458.75 291.80,458.01 292.30,457.26 292.80,456.52 293.30,455.77 293.80,455.02 294.30,454.27 294.80,453.52 295.30,452.77 295.80,452.01 296.30,451.26 296.80,450.50 297.30,449.74 297.80,448.98 298.30,448.22 298.80,447.46 299.30,446.69 299.80,445.92 300.30,445.16 300.80,444.39 301.30,443.62 301.80,442.84 302.30,442.07 302.80,441.29 303.30,440.52 303.80,439.74 304.30,438.96 304.80,438.18 305.30,437.39 305.80,436.61 306.30,435.82 306.80,435.03 307.30,434.24 307.80,433.45 308.30,432.66 308.80,431.87 309.30,431.07 309.80,430.27 310.30,429.48 310.80,428.68 311.30,427.87 311.80,427.07 312.30,426.27 312.80,425.46 313.30,424.65 313.80,423.85 314.30,423.04 314.80,422.22 315.30,421.41 315.80,420.60 316.30,419.78 316.80,418.96 317.30,418.14 317.80,417.32 318.30,416.50 318.80,415.68 319.30,414.85 319.80,414.03 320.30,413.20 320.80,412.37 321.30,411.54 321.80,410.71 322.30,409.87 322.80,409.04 323.30,408.20 323.80,407.37 324.30,406.53 324.80,405.69 325.30,404.85 325.80,404.00 326.30,403.16 326.80,402.31 327.30,401.47 327.80,400.62 328.30,399.77 328.80,398.92 329.30,398.06 329.80,397.21 330.30,396.36 330.80,395.50 331.30,394.64 331.80,393.78 332.30,392.92 332.80,392.06 333.30,391.20 333.80,390.33 334.30,389.47 334.80,388.60 335.30,387.73 335.80,386.86 336.30,385.99 336.80,385.12 337.30,384.25 337.80,383.37 338.30,382.49 338.80,381.62 339.30,380.74 339.80,379.86 340.30,378.98 340.80,378.10 341.30,377.21 341.80,376.33 342.30,375.44 342.80,374.55 343.30,373.67 343.80,372.78 344.30,371.88 344.80,370.99 345.30,370.10 345.80,369.20 346.30,368.31 346.80,367.41 347.30,366.51 347.80,365.61 348.30,364.71 348.80,363.81 349.30,362.91 349.80,362.00 350.30,361.10 350.80,360.19 351.30,359.28 351.80,358.37 352.30,357.46 352.80,356.55 353.30,355.64 353.80,354.73 354.30,353.81 354.80,352.90 355.30,351.98 355.80,351.06 356.30,350.14 356.80,349.22 357.30,348.30 357.80,347.38 358.30,346.45 358.80,345.53 359.30,344.60 359.80,343.68 360.30,342.75 360.80,341.82 361.30,340.89 361.80,339.96 362.30,339.02 362.80,338.09 363.30,337.16 363.80,336.22 364.30,335.28 364.80,334.35 365.30,333.41 365.80,332.47 366.30,331.53 366.80,330.58 367.30,329.64 367.80,328.70 368.30,327.75 368.80,326.80 369.30,325.86 369.80,324.91 370.30,323.96 370.80,323.01 371.30,322.06 371.80,321.10 372.30,320.15 372.80,319.20 373.30,318.24 373.80,317.29 374.30,316.33 374.80,315.37 375.30,314.41 375.80,313.45 376.30,312.49 376.80,311.53 377.30,310.56 377.80,309.60 378.30,308.63 378.80,307.67 379.30,306.70 379.80,305.73 380.30,304.76 380.80,303.80 381.30,302.83 381.80,301.86 382.30,300.89 382.80,299.92 383.30,298.95 383.80,297.98 384.30,297.01 384.80,296.03 385.30,295.06 385.80,294.09 386.30,293.12 386.80,292.15 387.30,291.19 387.80,290.22 388.30,289.25 388.80,288.28 389.30,287.32 389.80,286.35 390.30,285.38 390.80,284.42 391.30,283.46 391.80,282.50 392.30,281.54 392.80,280.58 393.30,279.62 393.80,278.66 394.30,277.71 394.80,276.76 395.30,275.80 395.80,274.85 396.30,273.91 396.80,272.96 397.30,272.02 397.80,271.08 398.30,270.14 398.80,269.20 399.30,268.26 399.80,267.33 400.30,266.40 400.80,265.47 401.30,264.55 401.80,263.63 402.30,262.71 402.80,261.79 403.30,260.87 403.80,259.96 404.30,259.05 404.80,258.15 405.30,257.24 405.80,256.34 406.30,255.44 406.80,254.55 407.30,253.65 407.80,252.76 408.30,251.87 408.80,250.98 409.30,250.10 409.80,249.21 410.30,248.33 410.80,247.45 411.30,246.58 411.80,245.70 412.30,244.83 412.80,243.96 413.30,243.09 413.80,242.22 414.30,241.36 414.80,240.50 415.30,239.64 415.80,238.78 416.30,237.92 416.80,237.06 417.30,236.21 417.80,235.36 418.30,234.51 418.80,233.66 419.30,232.81 419.80,231.96 420.30,231.12 420.80,230.27 421.30,229.43 421.80,228.59 422.30,227.75 422.80,226.92 423.30,226.08 423.80,225.25 424.30,224.41 424.80,223.58 425.30,222.75 425.80,221.93 426.30,221.10 426.80,220.28 427.30,219.46 427.80,218.64 428.30,217.82 428.80,217.01 429.30,216.20 429.80,215.39 430.30,214.58 430.80,213.78 431.30,212.98 431.80,212.18 432.30,211.38 432.80,210.59 433.30,209.80 433.80,209.02 434.30,208.24 434.80,207.46 435.30,206.68 435.80,205.91 436.30,205.14 436.80,204.38 437.30,203.62 437.80,202.86 438.30,202.11 438.80,201.36 439.30,200.62 439.80,199.88 440.30,199.14 440.80,198.41 441.30,197.68 441.80,196.96 442.30,196.24 442.80,195.53 443.30,194.82 443.80,194.12 444.30,193.42 444.80,192.73 445.30,192.04 445.80,191.36 446.30,190.68 446.80,190.01 447.30,189.34 447.80,188.68 448.30,188.02 448.80,187.37 449.30,186.73 449.80,186.09 450.30,185.46 450.80,184.83 451.30,184.21 451.80,183.59 452.30,182.99 452.80,182.38 453.30,181.79 453.80,181.20 454.30,180.62 454.80,180.04 455.30,179.47 455.80,178.91 456.30,178.35 456.80,177.81 457.30,177.26 457.80,176.73 458.30,176.20 458.80,175.68 459.30,175.16 459.80,174.66 460.30,174.15 460.80,173.66 461.30,173.17 461.80,172.69 462.30,172.21 462.80,171.74 463.30,171.27 463.80,170.81 464.30,170.36 464.80,169.92 465.30,169.48 465.80,169.04 466.30,168.61 466.80,168.19 467.30,167.77 467.80,167.36 468.30,166.96 468.80,166.56 469.30,166.16 469.80,165.77 470.30,165.39 470.80,165.01 471.30,164.64 471.80,164.27 472.30,163.91 472.80,163.55 473.30,163.20 473.80,162.86 474.30,162.52 474.80,162.18 475.30,161.85 475.80,161.52 476.30,161.20 476.80,160.88 477.30,160.57 477.80,160.26 478.30,159.96 478.80,159.66 479.30,159.37 479.80,159.08 480.30,158.80 480.80,158.52 481.30,158.24 481.80,157.97 482.30,157.71 482.80,157.44 483.30,157.18 483.80,156.93 484.30,156.68 484.80,156.43 485.30,156.19 485.80,155.95 486.30,155.72 486.80,155.49 487.30,155.26 487.80,155.04 488.30,154.82 488.80,154.61 489.30,154.39 489.80,154.19 490.30,153.98 490.80,153.78 491.30,153.58 491.80,153.39 492.30,153.20 492.80,153.01 493.30,152.82 493.80,152.64 494.30,152.46 494.80,152.29 495.30,152.11 495.80,151.94 496.30,151.78 496.80,151.61 497.30,151.45 497.80,151.30 498.30,151.14 498.80,150.99 499.30,150.84 499.80,150.69 500.30,150.54 500.80,150.40 501.30,150.26 501.80,150.12 502.30,149.99 502.80,149.85 503.30,149.72 503.80,149.59 504.30,149.47 504.80,149.34 505.30,149.22 505.80,149.10 506.30,148.98 506.80,148.86 507.30,148.75 507.80,148.63 508.30,148.52 508.80,148.41 509.30,148.30 509.80,148.20 510.30,148.09 510.80,147.99 511.30,147.89 511.80,147.79 512.30,147.69 512.80,147.59 513.30,147.49 513.80,147.39 514.30,147.30 514.80,147.21 515.30,147.11 515.80,147.02 516.30,146.93 516.80,146.84 517.30,146.75 517.80,146.66 518.30,146.58 518.80,146.49 519.30,146.40 519.80,146.32 520.30,146.23 520.80,146.15 521.30,146.06 521.80,145.98 522.30,145.90 522.80,145.81 523.30,145.73 523.80,145.65 524.30,145.56 524.80,145.48 525.30,145.40 525.80,145.32 526.30,145.24 526.80,145.15 527.30,145.07 527.80,144.99 528.30,144.90 528.80,144.82 529.30,144.74 529.80,144.65 530.30,144.57 530.80,144.48 531.30,144.40 531.80,144.31 532.30,144.22 532.80,144.14 533.30,144.05 533.80,143.96 534.30,143.87 534.80,143.78 535.30,143.69 535.80,143.59 536.30,143.50 536.80,144.21 537.30,144.92 537.80,145.62 538.30,146.33 538.80,147.04 539.30,147.75 539.80,148.46 540.30,149.18 540.80,149.89 541.30,150.60 541.80,151.32 542.30,152.04 542.80,152.77 543.30,153.50 543.80,154.23 544.30,154.96 544.80,155.69 545.30,156.42 545.80,157.14 546.30,157.85 546.80,158.56 547.30,159.25 547.80,159.93 548.30,160.60 548.80,161.26 549.30,161.92 549.80,162.57 550.30,163.22 550.80,163.86 551.30,164.49 551.80,165.12 552.30,165.75 552.80,166.36 553.30,166.98 553.80,167.58 554.30,168.18 554.80,168.78 555.30,169.37 555.80,169.95 556.30,170.53 556.80,171.11 557.30,171.69 557.80,172.26 558.30,172.82 558.80,173.39 559.30,173.94 559.80,174.49 560.30,175.03 560.80,175.57 561.30,176.09 561.80,176.61 562.30,177.11 562.80,177.61 563.30,178.09 563.80,178.57 564.30,179.04 564.80,179.51 565.30,179.97 565.80,180.43 566.30,180.88 566.80,181.32 567.30,181.76 567.80,182.19 568.30,182.61 568.80,183.03 569.30,183.44 569.80,183.84 570.30,184.24 570.80,184.62 571.30,185.00 571.80,185.37 572.30,185.74 572.80,186.09 573.30,186.43 573.80,186.77 574.30,187.10 574.80,187.42 575.30,187.74 575.80,188.06 576.30,188.37 576.80,188.68 577.30,188.98 577.80,189.29 578.30,189.59 578.80,189.90 579.30,190.21 579.80,190.51 580.30,190.83 580.80,191.14 581.30,191.46 581.80,191.79 582.30,192.11 582.80,192.44 583.30,192.76 583.80,193.09 584.30,193.42 584.80,193.74 585.30,194.07 585.80,194.40 586.30,194.72 586.80,195.05 587.30,195.37 587.80,195.70 588.30,196.02 588.80,196.34 589.30,196.66 589.80,196.97 590.30,197.29 590.80,197.61 591.30,197.93 591.80,198.25 592.30,198.57 592.80,198.89 593.30,199.21 593.80,199.53 594.30,199.84 594.80,200.15 595.30,200.46 595.80,200.77 596.30,201.07 596.80,201.36 597.30,201.64 597.80,201.92 598.30,202.19 598.80,202.46 599.30,202.72 599.80,202.97 600.30,203.23 600.80,203.48 601.30,203.72 601.80,203.97 602.30,204.21 602.80,204.45 603.30,204.68 603.80,204.91 604.30,205.14 604.80,205.37 605.30,205.60 605.80,205.82 606.30,206.04 606.80,206.26 607.30,206.47 607.80,206.69 608.30,206.90 608.80,207.11 609.30,207.31 609.80,207.52 610.30,207.72 610.80,207.92 611.30,208.12 611.80,208.32 612.30,208.52 612.80,208.71 613.30,208.90 613.80,209.09 614.30,209.28 614.80,209.47 615.30,209.65 615.80,209.83 616.30,210.01 616.80,210.19 617.30,210.37 617.80,210.54 618.30,210.71 618.80,210.89 619.30,211.06 619.80,211.23 620.30,211.39 620.80,211.56 621.30,211.73 621.80,211.89 622.30,212.06 622.80,212.22 623.30,212.39 623.80,212.55 624.30,212.71 624.80,212.87 625.30,213.04 625.80,213.20 626.30,213.36 626.80,213.52 627.30,213.68 627.80,213.84 628.30,214.00 628.80,214.16 629.30,214.31 629.80,214.47 630.30,214.63 630.80,214.78 631.30,214.93 631.80,215.09 632.30,215.24 632.80,215.39 633.30,215.54 633.80,215.69 634.30,215.84 634.80,215.99 635.30,216.13 635.80,216.28 636.30,216.42 636.80,216.56 637.30,216.70 637.80,216.84 638.30,216.98 638.80,217.12 639.30,217.25 639.80,217.39 640.30,217.52 640.80,217.65 641.30,217.78 641.80,217.91 642.30,218.04 642.80,218.16 643.30,218.29 643.80,218.41 644.30,218.54 644.80,218.66 645.30,218.78 645.80,218.90 646.30,219.02 646.80,219.14 647.30,219.26 647.80,219.38 648.30,219.50 648.80,219.61 649.30,219.73 649.80,219.85 650.30,219.96 650.80,220.08 651.30,220.20 651.80,220.31 652.30,220.43 652.80,220.55 653.30,220.66 653.80,220.78 654.30,220.89 654.80,221.01 655.30,221.12 655.80,221.23 656.30,221.35 656.80,221.46 657.30,221.57 657.80,221.68 658.30,221.79 658.80,221.90 659.30,222.01 659.80,222.12 660.30,222.23 660.80,222.34 661.30,222.45 661.80,222.56 662.30,222.67 662.80,222.78 663.30,222.89 663.80,223.00 664.30,223.11 664.80,223.22 665.30,223.33 665.80,223.43 666.30,223.54 666.80,223.65 667.30,223.76 667.80,223.88 668.30,223.99 668.80,224.10 669.30,224.21 669.80,224.32 670.30,224.44 670.80,224.55 671.30,224.66 671.80,224.77 672.30,224.88 672.80,224.99 673.30,225.11 673.80,225.21 674.30,225.32 674.80,225.43 675.30,225.54 675.80,225.64 676.30,225.75 676.80,225.85 677.30,225.95 677.80,226.05 678.30,226.15 678.80,226.25 679.30,226.34 679.80,226.44 680.30,226.53 680.80,226.62 681.30,226.70 681.80,226.79 682.30,226.87 682.80,226.96 683.30,227.04 683.80,227.12 684.30,227.20 684.80,227.27 685.30,227.35 685.80,227.43 686.30,227.51 686.80,227.58 687.30,227.66 687.80,227.74 688.30,227.81 688.80,227.89 689.30,227.97 689.80,228.05 690.30,228.13 690.80,228.21 691.30,228.29 691.80,228.38 692.30,228.46 692.80,228.55 693.30,228.64 693.80,228.72 694.30,228.81 694.80,228.91 695.30,229.00 695.80,229.09 696.30,229.18 696.80,229.28 697.30,229.37 697.80,229.47 698.30,229.57 698.80,229.66 699.30,229.76 699.80,229.86 700.30,229.96 700.80,230.06 701.30,230.16 701.80,230.26 702.00,230.30 702.50,229.65 703.00,228.97 703.50,228.25 704.00,227.50 704.50,226.72 705.00,225.92 705.50,225.08 706.00,224.23 706.50,223.29 707.00,222.29 707.50,221.24 708.00,220.17 708.50,219.13 709.00,218.13 709.50,217.20 710.00,216.33 710.50,215.48 711.00,214.64 711.50,213.82 712.00,213.02 712.50,212.22 713.00,211.44 713.50,210.68 714.00,209.92 714.50,209.18 715.00,208.45 715.50,207.73 716.00,207.02 716.50,206.31 717.00,205.62 717.50,204.93 718.00,204.25 718.50,203.57 719.00,202.90 719.50,202.24 720.00,201.59 720.50,200.95 721.00,200.31 721.50,199.69 722.00,199.08 722.50,198.47 723.00,197.87 723.50,197.28 724.00,196.69 724.50,196.10 725.00,195.52 725.50,194.94 726.00,194.37 726.50,193.79 727.00,193.22 727.50,192.65 728.00,192.07 728.50,191.50 729.00,190.93 729.50,190.35 730.00,189.78 730.50,189.22 731.00,188.65 731.50,188.09 732.00,187.53 732.50,186.97 733.00,186.41 733.50,185.86 734.00,185.31 734.50,184.76 735.00,184.22 735.50,183.67 736.00,183.13 736.50,182.60 737.00,182.06 737.50,181.53 738.00,181.00 738.50,180.47 739.00,179.94 739.50,179.41 740.00,178.88 740.50,178.35 741.00,177.82 741.50,177.29 742.00,176.77 742.50,176.25 743.00,175.73 743.50,175.22 744.00,174.72 744.50,174.22 745.00,173.72 745.50,173.24 746.00,172.77 746.50,172.30 747.00,171.84 747.50,171.40 748.00,170.96 748.50,170.54 749.00,170.11 749.50,169.70 750.00,169.29 750.50,168.89 751.00,168.49 751.50,168.09 752.00,167.70 752.50,167.32 753.00,166.94 753.50,166.56 754.00,166.19 754.50,165.81 755.00,165.44 755.50,165.08 756.00,164.71 756.50,164.35 757.00,163.98 757.50,163.62 758.00,163.26 758.50,162.89 759.00,162.53 759.50,162.17 760.00,161.80 760.50,161.43 761.00,161.06 761.50,160.68 762.00,160.30 762.50,159.91 763.00,159.53 763.50,159.15 764.00,158.77 764.50,158.39 765.00,158.01 765.50,157.64 766.00,157.28 766.50,156.92 767.00,156.57 767.50,156.23 768.00,155.90 768.50,155.58 769.00,155.28 769.50,154.99 770.00,154.71 770.50,154.45 771.00,154.20 771.50,153.95 772.00,153.71 772.50,153.47 773.00,153.24 773.50,153.02 774.00,152.80 774.50,152.58 775.00,152.37 775.50,152.17 776.00,151.97 776.50,151.77 777.00,151.58 777.50,151.40 778.00,151.22 778.50,151.04 779.00,150.87 779.50,150.71 780.00,150.55 780.50,150.39 781.00,150.24 781.50,150.09 782.00,149.95 782.50,149.82 783.00,149.68 783.50,149.55 784.00,149.43 784.50,149.30 785.00,149.18 785.50,149.07 786.00,148.95 786.50,148.84 787.00,148.73 787.50,148.61 788.00,148.50 788.50,148.39 789.00,148.29 789.50,148.18 790.00,148.07 790.50,147.96 791.00,147.84 791.50,147.73 792.00,147.62 792.50,147.50 793.00,147.39 793.50,147.27 794.00,147.16 794.50,147.04 795.00,146.93 795.50,146.81 796.00,146.70 796.50,146.59 797.00,146.48 797.50,146.37 798.00,146.27 798.50,146.16 799.00,146.06 799.50,145.97 800.00,145.87 800.50,145.78 801.00,145.70 801.50,145.62 802.00,145.54 802.50,145.46 803.00,145.39 803.50,145.32 804.00,145.24 804.50,145.18 805.00,145.11 805.50,145.04 806.00,144.98 806.50,144.92 807.00,144.85 807.50,144.79 808.00,144.74 808.50,144.68 809.00,144.62 809.50,144.57 810.00,144.51 810.50,144.46 811.00,144.40 811.50,144.35 812.00,144.30 812.50,144.25 813.00,144.20 813.50,144.15 814.00,144.10 814.50,144.05 815.00,144.01 815.50,143.96 816.00,143.91 816.50,143.87 817.00,143.82 817.50,143.78 818.00,143.74 818.50,143.70 819.00,143.66 819.50,143.62 820.00,143.58 820.50,143.54 821.00,143.50 821.50,143.46 822.00,143.43 822.50,143.39 823.00,143.36 823.50,143.33 824.00,143.29 824.50,143.26 825.00,143.23 825.50,143.20 826.00,143.17 826.50,143.14 827.00,143.11 827.50,143.08 828.00,143.06 828.50,143.03 829.00,143.00 829.50,142.97 830.00,142.95 830.50,142.92 831.00,142.89 831.50,142.87 832.00,142.84 832.50,142.82 833.00,142.79 833.50,142.76 834.00,142.74 834.50,142.71 835.00,142.68 835.50,142.66 836.00,142.63 836.50,142.60 837.00,142.58 837.50,142.55 838.00,142.52 838.50,142.50 839.00,142.47 839.50,142.45 840.00,142.43 840.50,142.40 841.00,142.38 841.50,142.36 842.00,142.34 842.50,142.32 843.00,142.31 843.50,142.29 844.00,142.27 844.50,142.26 845.00,142.24 845.50,142.23 846.00,142.21 846.50,142.20 847.00,142.18 847.50,142.17 848.00,142.16 848.50,142.14 849.00,142.13 849.50,142.11 850.00,142.10 850.50,142.09 851.00,142.08 851.50,142.06 852.00,142.05 852.50,142.04 853.00,142.03 853.50,142.01 854.00,142.00 854.50,141.99 855.00,141.98 855.50,141.97 856.00,141.96 856.50,141.95 857.00,141.93 857.50,141.92 858.00,141.91 858.50,141.90 859.00,141.89 859.50,141.88 860.00,141.87 860.50,141.86 861.00,141.85 861.50,141.84 862.00,141.84 862.50,141.83 863.00,141.82 863.50,141.81 864.00,141.80 864.50,141.79 865.00,141.78 865.50,141.77 866.00,141.76 866.50,141.76 867.00,141.75 867.50,141.74 868.00,141.73 868.50,141.72 869.00,141.72 869.50,141.71 870.00,141.70 870.50,141.69 871.00,141.68 871.50,141.68 872.00,141.67 872.50,141.66 873.00,141.65 873.50,141.65 874.00,141.64 874.50,141.63 875.00,141.62 875.50,141.62 876.00,141.61 876.50,141.60 877.00,141.59 877.50,141.59 878.00,141.58 878.50,141.57 879.00,141.57 879.50,141.56 880.00,141.55 880.50,141.54 881.00,141.54 881.50,141.53 882.00,141.52 882.50,141.52 883.00,141.51 883.50,141.50 884.00,141.50 884.50,141.49 885.00,141.49 885.50,141.48 886.00,141.47 886.50,141.47 887.00,141.46 887.50,141.46 888.00,141.45 888.50,141.44 889.00,141.44 889.50,141.43 890.00,141.43 890.50,141.42 891.00,141.42 891.50,141.41 892.00,141.41 892.50,141.40 893.00,141.40 893.50,141.39 894.00,141.39 894.50,141.39 895.00,141.38 895.50,141.38 896.00,141.37 896.50,141.37 897.00,141.37 897.50,141.36 898.00,141.36 898.50,141.36 899.00,141.36 899.50,141.35 900.00,141.35 900.50,141.35 901.00,141.35 901.50,141.34 902.00,141.34 902.50,141.34 903.00,141.34 903.50,141.33 904.00,141.33 904.50,141.33 905.00,141.33 905.50,141.32 906.00,141.32 906.50,141.32 907.00,141.32 907.50,141.31 908.00,141.31 908.50,141.31 909.00,141.31 909.50,141.31 910.00,141.30 910.50,141.30 911.00,141.30 911.50,141.30 912.00,141.29 912.50,141.29 913.00,141.29 913.50,141.29 914.00,141.29 914.50,141.28 915.00,141.28 915.50,141.28 916.00,141.28 916.50,141.28 917.00,141.27 917.50,141.27 918.00,141.27 918.50,141.27 919.00,141.27 919.50,141.26 920.00,141.26 920.50,141.26 921.00,141.26 921.50,141.26 922.00,141.26 922.50,141.25 923.00,141.25 923.50,141.25 924.00,141.25 924.50,141.25 925.00,141.25 925.50,141.24 926.00,141.24 926.50,141.24 927.00,141.24 927.50,141.24 928.00,141.24 928.50,141.23 929.00,141.23 929.50,141.23 930.00,141.23 930.50,141.23 931.00,141.23 931.50,141.23 932.00,141.22 932.50,141.22 933.00,141.22 933.50,141.22 934.00,141.22 934.50,141.22 935.00,141.22 935.50,141.22 936.00,141.22 936.50,141.21 937.00,141.21 937.50,141.21 938.00,141.21 938.50,141.21 939.00,141.21 939.50,141.21 940.00,141.21 940.50,141.21 941.00,141.21 941.50,141.21 942.00,141.21 942.50,141.21 943.00,141.20 943.50,141.20 944.00,141.20 944.50,141.20 945.00,141.20 945.50,141.20 946.00,141.20 946.50,141.20 947.00,141.20 947.50,141.20 948.00,141.20 948.50,141.20 949.00,141.20 949.50,141.20 950.00,141.20 950.50,141.20 951.00,141.20" stroke="#FF0000" stroke-width="5.2"/>
</g>
<path d="M124.00 749.80V741.50M124.00 3.70V12.00M331.00 749.80V741.50M331.00 3.70V12.00M538.00 749.80V741.50M538.00 3.70V12.00M745.00 749.80V741.50M745.00 3.70V12.00M951.00 749.80V741.50M951.00 3.70V12.00M124.00 720.16H132.30M951.00 720.16H942.70M124.00 649.50H132.30M951.00 649.50H942.70M124.00 578.84H132.30M951.00 578.84H942.70M124.00 508.18H132.30M951.00 508.18H942.70M124.00 437.52H132.30M951.00 437.52H942.70M124.00 366.86H132.30M951.00 366.86H942.70M124.00 296.20H132.30M951.00 296.20H942.70M124.00 225.54H132.30M951.00 225.54H942.70M124.00 154.88H132.30M951.00 154.88H942.70M124.00 84.22H132.30M951.00 84.22H942.70M124.00 13.56H132.30M951.00 13.56H942.70" stroke="#262626" stroke-width="2" fill="none"/>
<rect x="124.0" y="3.7" width="827.0" height="746.0999999999999" fill="none" stroke="#262626" stroke-width="2" stroke-linejoin="round"/>
<text x="113.0" y="732.16" text-anchor="end" class="tl">-200</text>
<text x="113.0" y="661.50" text-anchor="end" class="tl">0</text>
<text x="113.0" y="590.84" text-anchor="end" class="tl">200</text>
<text x="113.0" y="520.18" text-anchor="end" class="tl">400</text>
<text x="113.0" y="449.52" text-anchor="end" class="tl">600</text>
<text x="113.0" y="378.86" text-anchor="end" class="tl">800</text>
<text x="113.0" y="308.20" text-anchor="end" class="tl">1000</text>
<text x="113.0" y="237.54" text-anchor="end" class="tl">1200</text>
<text x="113.0" y="166.88" text-anchor="end" class="tl">1400</text>
<text x="113.0" y="96.22" text-anchor="end" class="tl">1600</text>
<text x="113.0" y="25.56" text-anchor="end" class="tl">1800</text>
<text x="124.00" y="793.3" text-anchor="middle" class="tl">0</text>
<text x="331.00" y="793.3" text-anchor="middle" class="tl">0.5</text>
<text x="538.00" y="793.3" text-anchor="middle" class="tl">1</text>
<text x="745.00" y="793.3" text-anchor="middle" class="tl">1.5</text>
<text x="951.00" y="793.3" text-anchor="middle" class="tl">2</text>
<text class="al" x="538" y="837.4" text-anchor="middle">T/s</text>
<text class="al" transform="translate(29,373) rotate(-90)" text-anchor="middle">Rotational speed(r/min)</text>
<rect x="661.3" y="20.3" width="282.9" height="73.5" fill="#fff" stroke="#262626" stroke-width="1.5"/>
<line x1="669.3" y1="39.9" x2="751.5" y2="39.9" stroke="#0072BD" stroke-width="2.5"/>
<line x1="669.3" y1="74.0" x2="751.5" y2="74.0" stroke="#FF0000" stroke-width="5.2"/>
<text class="lg" x="758.5" y="50.3">Estimated speed</text>
<text class="lg" x="758.5" y="82.8">Motor speed</text>
</svg>
</body></html>
